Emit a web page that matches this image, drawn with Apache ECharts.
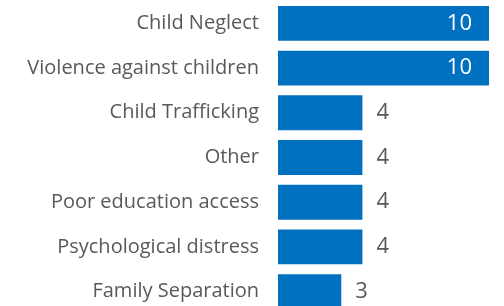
<!DOCTYPE html>
<html>
<head>
<meta charset="utf-8">
<script src="https://cdn.jsdelivr.net/npm/echarts@6/dist/echarts.min.js"></script>
<style>
	html, body { margin: 0; padding: 0; background: #fff; }
	#chart { width: 504px; height: 306px; }
</style>
</head>
<body>
<div id="chart"></div>
<script>
// categories top to bottom
const categories = [
	"Child Neglect",
	"Violence against children",
	"Child Trafficking",
	"Other",
	"Poor education access",
	"Psychological distress",
	"Family Separation",
];
const counts = [10, 10, 4, 4, 4, 4, 3];

const chart = echarts.init(document.getElementById("chart"));

const seriesData = counts.map((v) => {
	// big bars get the number inside, small ones outside
	const inside = v >= 8;
	return {
		value: v,
		label: {
			position: inside ? "insideRight" : "right",
			distance: inside ? 17 : 14,
			color: inside ? "#ffffff" : "#595959",
		},
	};
});

chart.setOption({
	animation: false,
	grid: {
		left: 278,
		right: 15,
		top: 1,
		height: 313,
		outerBoundsMode: "none",
	},
	xAxis: {
		type: "value",
		min: 0,
		max: 10,
		show: false,
	},
	yAxis: {
		type: "category",
		data: categories,
		inverse: true,
		axisLine: { show: false },
		axisTick: { show: false },
		axisLabel: {
			margin: 19,
			color: "#595959",
			fontFamily: "Open Sans",
			fontSize: 20,
		},
	},
	series: [
		{
			type: "bar",
			data: seriesData,
			barCategoryGap: "22%",
			itemStyle: { color: "#0070C0" },
			label: {
				show: true,
				fontFamily: "Open Sans",
				fontSize: 22,
			},
		},
	],
});
</script>
</body>
</html>
